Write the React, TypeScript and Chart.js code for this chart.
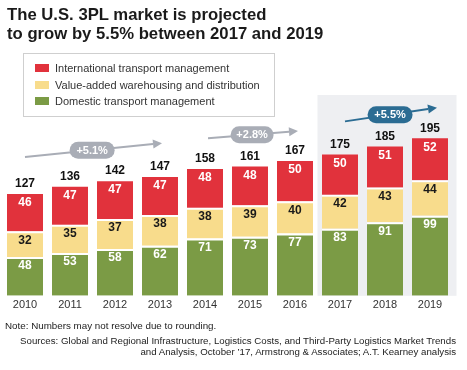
import React, { useEffect, useRef } from "react";
import { Chart, registerables } from "chart.js";

Chart.register(...registerables);

const years = ["2010", "2011", "2012", "2013", "2014", "2015", "2016", "2017", "2018", "2019"];
const domestic = [48, 53, 58, 62, 71, 73, 77, 83, 91, 99];
const valueAdded = [32, 35, 37, 38, 38, 39, 40, 42, 43, 44];
const international = [46, 47, 47, 47, 48, 48, 50, 50, 51, 52];
const totals = [127, 136, 142, 147, 158, 161, 167, 175, 185, 195];
const growthLabels = ["+5.1%", "+2.8%", "+5.5%"];
const growthFrom = [0, 4, 7];
const growthTo = [3, 6, 9];

const FONT = "'Liberation Sans', Arial, Helvetica, sans-serif";
const RED = "#E1323C";
const YELLOW = "#F8DC8C";
const GREEN = "#7B9B45";
const GRAY_BG = "#EEEFF2";
const GRAY_ARROW = "#A9ADB6";
const BLUE = "#2B6C93";

// arrow layout (y in scale units, dx in px)
const arrowLayout = [
  { y0: 172, y1: 189, dx0: 0, dx1: 2, w: 45, color: GRAY_ARROW },
  { y0: 195, y1: 204, dx0: 3, dx1: 3, w: 43, color: GRAY_ARROW },
  { y0: 216, y1: 233, dx0: 5, dx1: 7, w: 45, color: BLUE },
];

const decorPlugin = {
  id: "decor",
  beforeDatasetsDraw(chart: any) {
    const { ctx, chartArea } = chart;
    const x = chart.scales.x;
    const half = (x.getPixelForValue(1) - x.getPixelForValue(0)) / 2;
    const left = x.getPixelForValue(7) - half;
    const right = x.getPixelForValue(9) + half + 4;
    ctx.save();
    ctx.fillStyle = GRAY_BG;
    ctx.fillRect(left, chartArea.top - 7, right - left, chartArea.bottom - chartArea.top + 7);
    ctx.restore();
  },
  afterDatasetsDraw(chart: any) {
    const { ctx } = chart;
    const x = chart.scales.x;
    const y = chart.scales.y;
    ctx.save();
    // segment labels
    const labelColors = ["#ffffff", "#1a1a1a", "#ffffff"];
    ctx.font = `bold 12px ${FONT}`;
    ctx.textAlign = "center";
    ctx.textBaseline = "middle";
    chart.data.datasets.forEach((ds: any, i: number) => {
      const meta = chart.getDatasetMeta(i);
      meta.data.forEach((el: any, j: number) => {
        ctx.fillStyle = labelColors[i];
        ctx.fillText(String(ds.data[j]), el.x, el.y + 9);
      });
    });
    // totals
    const topMeta = chart.getDatasetMeta(chart.data.datasets.length - 1);
    topMeta.data.forEach((el: any, j: number) => {
      ctx.fillStyle = "#111";
      ctx.fillText(String(totals[j]), el.x, el.y - 10);
    });
    // arrows
    growthLabels.forEach((label, k) => {
      const a = arrowLayout[k];
      const sx = x.getPixelForValue(growthFrom[k]) + a.dx0;
      const ex = x.getPixelForValue(growthTo[k]) + a.dx1;
      const sy = y.getPixelForValue(a.y0);
      const ey = y.getPixelForValue(a.y1);
      const ang = Math.atan2(ey - sy, ex - sx);
      const headLen = 9;
      const lx = ex - headLen * Math.cos(ang);
      const ly = ey - headLen * Math.sin(ang);
      ctx.strokeStyle = a.color;
      ctx.fillStyle = a.color;
      ctx.lineWidth = 2;
      ctx.beginPath();
      ctx.moveTo(sx, sy);
      ctx.lineTo(lx, ly);
      ctx.stroke();
      ctx.beginPath();
      ctx.moveTo(ex, ey);
      ctx.lineTo(lx + 4.5 * Math.sin(ang), ly - 4.5 * Math.cos(ang));
      ctx.lineTo(lx - 4.5 * Math.sin(ang), ly + 4.5 * Math.cos(ang));
      ctx.closePath();
      ctx.fill();
      // pill
      const cx = sx + (ex - sx) * 0.49;
      const cy = sy + (ey - sy) * 0.49;
      const h = 17;
      const w = a.w;
      const r = h / 2;
      ctx.beginPath();
      ctx.moveTo(cx - w / 2 + r, cy - r);
      ctx.lineTo(cx + w / 2 - r, cy - r);
      ctx.arc(cx + w / 2 - r, cy, r, -Math.PI / 2, Math.PI / 2);
      ctx.lineTo(cx - w / 2 + r, cy + r);
      ctx.arc(cx - w / 2 + r, cy, r, Math.PI / 2, (3 * Math.PI) / 2);
      ctx.closePath();
      ctx.fill();
      ctx.fillStyle = "#ffffff";
      ctx.font = `bold 11px ${FONT}`;
      ctx.fillText(label, cx, cy + 0.5);
    });
    ctx.restore();
  },
};

function BarChart() {
  const ref = useRef<HTMLCanvasElement>(null);
  useEffect(() => {
    if (!ref.current) return;
    const chart = new Chart(ref.current, {
      type: "bar",
      data: {
        labels: years,
        datasets: [
          {
            label: "Domestic transport management",
            data: domestic,
            backgroundColor: GREEN,
            borderColor: "#ffffff",
            borderWidth: { top: 2, left: 0, right: 0, bottom: 0 },
            borderSkipped: false,
          },
          {
            label: "Value-added warehousing and distribution",
            data: valueAdded,
            backgroundColor: YELLOW,
            borderColor: "#ffffff",
            borderWidth: { top: 2, left: 0, right: 0, bottom: 0 },
            borderSkipped: false,
          },
          {
            label: "International transport management",
            data: international,
            backgroundColor: RED,
            borderWidth: 0,
          },
        ],
      },
      options: {
        responsive: false,
        animation: false,
        devicePixelRatio: 1,
        layout: { padding: { left: 2.5, right: 14.5, top: 102, bottom: 55 } },
        plugins: { legend: { display: false }, tooltip: { enabled: false } },
        datasets: { bar: { categoryPercentage: 1, barPercentage: 0.8 } },
        scales: {
          x: {
            stacked: true,
            grid: { display: false, drawTicks: false },
            border: { display: false },
            ticks: { font: { family: FONT, size: 11 }, color: "#333", padding: 3 },
          },
          y: { stacked: true, display: false, min: 0, max: 240 },
        },
      },
      plugins: [decorPlugin],
    } as any);
    return () => chart.destroy();
  }, []);
  return (
    <canvas
      ref={ref}
      width={467}
      height={370}
      style={{ position: "absolute", left: 0, top: 0, width: 467, height: 370 }}
    />
  );
}

const legendItems = [
  { label: "International transport management", color: RED },
  { label: "Value-added warehousing and distribution", color: YELLOW },
  { label: "Domestic transport management", color: GREEN },
];

export default function App() {
  useEffect(() => {
    document.body.style.margin = "0";
  }, []);
  return (
    <div
      style={{
        position: "relative",
        width: 467,
        height: 370,
        background: "#fff",
        fontFamily: FONT,
        overflow: "hidden",
        margin: 0,
      }}
    >
      <BarChart />
      <div
        style={{
          position: "absolute",
          left: 7,
          top: 4.5,
          fontSize: 16.7,
          fontWeight: "bold",
          lineHeight: "19.5px",
          color: "#1a1a1a",
          whiteSpace: "nowrap",
        }}
      >
        The U.S. 3PL market is projected
        <br />
        to grow by 5.5% between 2017 and 2019
      </div>
      <div
        style={{
          position: "absolute",
          left: 23,
          top: 53,
          width: 252,
          height: 64,
          boxSizing: "border-box",
          border: "1px solid #cfcfcf",
          background: "#fff",
        }}
      >
        {legendItems.map((it, i) => (
          <div
            key={it.label}
            style={{
              position: "absolute",
              left: 11,
              top: 6 + i * 16.7,
              height: 16,
              display: "flex",
              alignItems: "center",
              whiteSpace: "nowrap",
            }}
          >
            <span style={{ display: "inline-block", width: 14, height: 8, background: it.color }} />
            <span style={{ marginLeft: 6, fontSize: 11, color: "#333", lineHeight: "16px" }}>{it.label}</span>
          </div>
        ))}
      </div>
      <div
        style={{
          position: "absolute",
          left: 5,
          top: 320,
          fontSize: 9.8,
          lineHeight: "12px",
          color: "#222",
          whiteSpace: "nowrap",
        }}
      >
        Note: Numbers may not resolve due to rounding.
      </div>
      <div
        style={{
          position: "absolute",
          right: 11,
          top: 336,
          fontSize: 9.7,
          lineHeight: "10.5px",
          color: "#222",
          textAlign: "right",
          whiteSpace: "nowrap",
        }}
      >
        Sources: Global and Regional Infrastructure, Logistics Costs, and Third-Party Logistics Market Trends
        <br />
        and Analysis, October ’17, Armstrong &amp; Associates; A.T. Kearney analysis
      </div>
    </div>
  );
}
